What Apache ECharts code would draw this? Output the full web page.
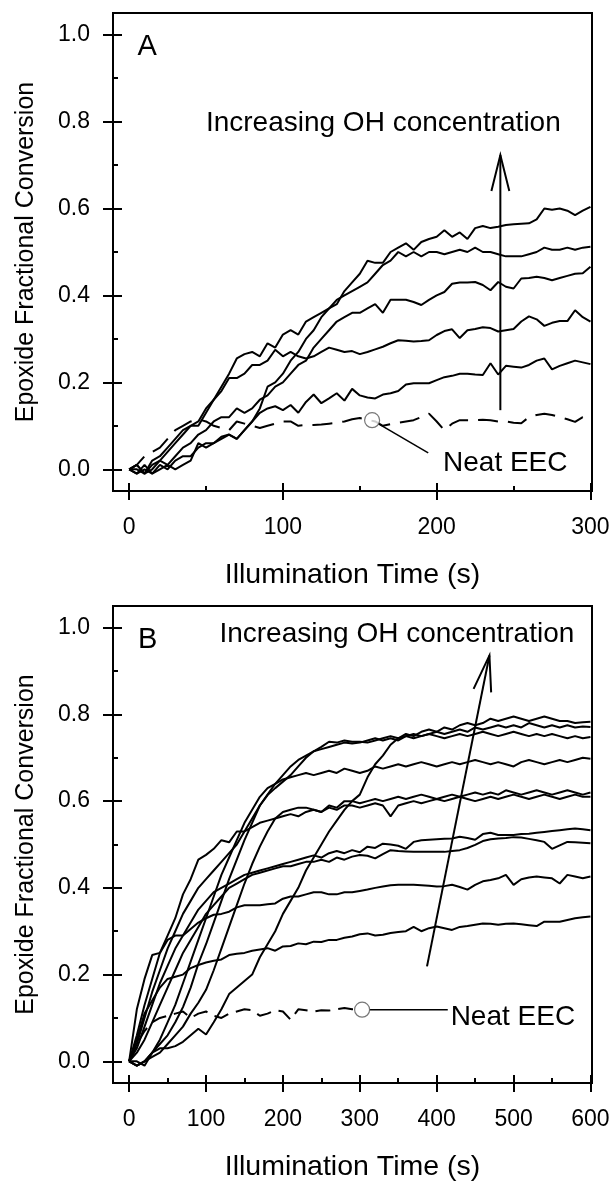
<!DOCTYPE html>
<html><head><meta charset="utf-8">
<script src="https://cdn.jsdelivr.net/npm/echarts@6/dist/echarts.min.js"></script>
<style>html,body{margin:0;padding:0;background:#fff}#c{width:615px;height:1183px}</style>
</head><body><div id="c"></div>
<script>
const FONT = 'Liberation Sans, Arial, sans-serif';
// ---------- Panel A (time step 5 s) ----------
const timeA = [0,5,10,15,20,25,30,35,40,45,50,55,60,65,70,75,80,85,90,95,100,105,110,115,120,125,130,135,140,145,150,155,160,165,170,175,180,185,190,195,200,205,210,215,220,225,230,235,240,245,250,255,260,265,270,275,280,285,290,295,300];
const a1 = [0,0,-0.01,0.01,0.02, 0.04,0.06,0.08,0.10,0.11, 0.14,0.16,0.19,0.22,0.255, 0.265,0.27,0.26,0.29,0.28, 0.31,0.32,0.31,0.34,0.35, 0.36,0.37,0.38,0.41,0.43, 0.45,0.48,0.475,0.475,0.50, 0.51,0.52,0.505,0.523,0.53, 0.535,0.55,0.535,0.545,0.53, 0.555,0.56,0.555,0.558,0.562, 0.564,0.565,0.566,0.575,0.60, 0.597,0.60,0.595,0.585,0.595, 0.604];
const a2 = [0,-0.01,0,-0.01,0.01, 0,0.02,0.03,0.03,0.05, 0.06,0.06,0.07,0.08,0.07, 0.09,0.11,0.14,0.19,0.20, 0.22,0.25,0.27,0.30,0.32, 0.35,0.37,0.39,0.40,0.41, 0.42,0.43,0.45,0.47,0.48, 0.50,0.49,0.50,0.49,0.50, 0.50,0.495,0.50,0.505,0.50, 0.51,0.50,0.50,0.495,0.49, 0.49,0.49,0.495,0.50,0.51, 0.505,0.505,0.51,0.505,0.51, 0.512];
const a3 = [0,0.01,-0.01,0,0.02, 0.01,0.03,0.05,0.06,0.08, 0.09,0.11,0.12,0.12,0.14, 0.13,0.14,0.16,0.17,0.19, 0.20,0.22,0.24,0.25,0.28, 0.30,0.32,0.34,0.35,0.36, 0.36,0.37,0.38,0.36,0.39, 0.39,0.39,0.385,0.378,0.39, 0.40,0.408,0.427,0.43,0.43, 0.431,0.424,0.412,0.431,0.42, 0.416,0.439,0.44,0.443,0.44, 0.435,0.44,0.445,0.45,0.451, 0.466];
const a4 = [0,0.01,-0.01,0.02,0.03, 0.05,0.07,0.09,0.10,0.10, 0.13,0.16,0.18,0.21,0.21, 0.22,0.24,0.24,0.25,0.275, 0.26,0.27,0.26,0.255,0.26, 0.27,0.28,0.275,0.27,0.272, 0.265,0.27,0.276,0.282,0.29, 0.297,0.296,0.294,0.295,0.297, 0.309,0.318,0.322,0.302,0.32, 0.323,0.327,0.325,0.317,0.32, 0.323,0.34,0.352,0.345,0.33, 0.337,0.341,0.341,0.366,0.35, 0.34];
const a5 = [0,-0.01,0.01,-0.01,0, 0.01,0,0.01,0.02,0.06, 0.05,0.06,0.075,0.08,0.07, 0.09,0.11,0.13,0.14,0.145, 0.136,0.148,0.13,0.155,0.172, 0.152,0.163,0.175,0.158,0.185, 0.17,0.165,0.163,0.172,0.175, 0.18,0.195,0.198,0.198,0.198, 0.205,0.212,0.215,0.22,0.22, 0.218,0.217,0.244,0.218,0.238, 0.236,0.234,0.24,0.25,0.255, 0.23,0.238,0.244,0.25,0.246, 0.242];
const aNeat = [0,0.01,0.03,0.04,0.05, 0.07,0.09,0.10,0.11,0.115, 0.11,0.10,0.095,0.09,0.11, 0.105,0.10,0.095,0.10,0.105, 0.11,0.11,0.10,0.102,0.102, 0.103,0.105,0.107,0.11,0.115, 0.118,0.114,0.11,0.10,0.104, 0.107,0.11,0.113,0.12,0.128, 0.11,0.09,0.105,0.113,0.113, 0.113,0.114,0.113,0.11,0.11, 0.107,0.106,0.12,0.125,0.128, 0.125,0.12,0.115,0.109,0.12, 0.12];
const neatMarkA = [158, 0.113];
const xMajorA = [0,100,200,300];
const xMinorA = [50,150,250];
// ---------- Panel B (time step 10 s) ----------
const timeB = [0,10,20,30,40,50,60,70,80,90,100,110,120,130,140,150,160,170,180,190,200,210,220,230,240,250,260,270,280,290,300,310,320,330,340,350,360,370,380,390,400,410,420,430,440,450,460,470,480,490,500,510,520,530,540,550,560,570,580,590,600];
const b1 = [0,-0.01,0,0.02,0.03, 0.03,0.035,0.045,0.06,0.075, 0.062,0.09,0.12,0.155,0.17, 0.185,0.20,0.24,0.27,0.30, 0.34,0.37,0.40,0.44,0.47, 0.50,0.53,0.555,0.58,0.60, 0.615,0.655,0.685,0.705,0.73, 0.745,0.755,0.75,0.76,0.765, 0.76,0.77,0.765,0.775,0.78, 0.775,0.78,0.79,0.785,0.79, 0.795,0.79,0.785,0.79,0.795, 0.79,0.785,0.785,0.78,0.782, 0.783];
const b2 = [0,0.12,0.19,0.245,0.25, 0.29,0.33,0.385,0.42,0.465, 0.476,0.49,0.51,0.505,0.53, 0.53,0.56,0.59,0.614,0.63, 0.645,0.66,0.68,0.70,0.715, 0.725,0.737,0.735,0.74,0.737, 0.737,0.735,0.74,0.745,0.75, 0.745,0.75,0.755,0.75,0.755, 0.76,0.755,0.76,0.765,0.76, 0.77,0.765,0.77,0.775,0.77, 0.775,0.77,0.78,0.775,0.77, 0.775,0.77,0.775,0.77,0.772, 0.771];
const b3 = [0,-0.01,0,0.02,0.04, 0.06,0.09,0.125,0.17,0.225, 0.27,0.32,0.37,0.42,0.465, 0.51,0.55,0.59,0.615,0.64, 0.66,0.68,0.695,0.705,0.715, 0.72,0.725,0.73,0.735,0.733, 0.735,0.74,0.745,0.74,0.745, 0.74,0.75,0.745,0.75,0.755, 0.75,0.745,0.75,0.755,0.75, 0.755,0.76,0.755,0.75,0.755, 0.76,0.755,0.75,0.755,0.75, 0.755,0.75,0.745,0.75,0.745, 0.748];
const b4 = [0,0,-0.01,0.02,0.05, 0.09,0.13,0.18,0.23,0.28, 0.33,0.38,0.43,0.47,0.51, 0.55,0.58,0.61,0.63,0.64, 0.65,0.655,0.66,0.665,0.66, 0.665,0.67,0.665,0.675,0.67, 0.665,0.67,0.68,0.675,0.68, 0.685,0.68,0.685,0.69,0.685, 0.68,0.685,0.69,0.685,0.69, 0.695,0.69,0.685,0.69,0.685, 0.68,0.69,0.695,0.69,0.685, 0.69,0.695,0.69,0.695,0.70, 0.698];
const b5 = [0,-0.01,0,0.01,0.02, 0.04,0.06,0.08,0.11,0.135, 0.165,0.21,0.26,0.31,0.36, 0.41,0.455,0.495,0.53,0.56, 0.575,0.58,0.585,0.585,0.58, 0.575,0.59,0.585,0.60,0.60, 0.595,0.60,0.605,0.60,0.605, 0.61,0.605,0.61,0.615,0.61, 0.605,0.61,0.615,0.61,0.615, 0.62,0.615,0.62,0.615,0.625, 0.62,0.615,0.62,0.625,0.62, 0.615,0.62,0.625,0.62,0.615, 0.62];
const b6 = [0,0.04,0.10,0.16,0.21, 0.26,0.30,0.34,0.37,0.40, 0.42,0.44,0.46,0.48,0.50, 0.53,0.54,0.55,0.555,0.56, 0.565,0.57,0.565,0.575,0.58, 0.575,0.585,0.58,0.59,0.59, 0.585,0.59,0.595,0.59,0.565, 0.59,0.595,0.60,0.595,0.60, 0.605,0.60,0.605,0.61,0.605, 0.60,0.605,0.61,0.605,0.61, 0.615,0.61,0.605,0.61,0.615, 0.61,0.605,0.61,0.615,0.61, 0.61];
const b7 = [0,0.03,0.08,0.13,0.18, 0.22,0.26,0.29,0.32,0.35, 0.37,0.39,0.40,0.41,0.42, 0.43,0.435,0.44,0.445,0.45, 0.455,0.46,0.465,0.47,0.475, 0.47,0.48,0.485,0.48,0.487, 0.482,0.495,0.492,0.502,0.50, 0.497,0.49,0.506,0.51,0.511, 0.512,0.513,0.514,0.518,0.515, 0.511,0.524,0.527,0.522,0.522, 0.522,0.524,0.525,0.527,0.529, 0.531,0.533,0.535,0.537,0.535, 0.533];
const b8 = [0,0.02,0.05,0.09,0.13, 0.17,0.21,0.25,0.28,0.31, 0.34,0.36,0.38,0.40,0.41, 0.42,0.43,0.435,0.44,0.445, 0.45,0.45,0.455,0.46,0.46, 0.465,0.46,0.47,0.465,0.472, 0.476,0.474,0.468,0.478,0.487, 0.485,0.484,0.483,0.483,0.483, 0.483,0.483,0.485,0.487,0.492, 0.499,0.508,0.512,0.514,0.515, 0.517,0.516,0.513,0.51,0.506, 0.49,0.498,0.506,0.505,0.504, 0.503];
const b9 = [0,0.06,0.13,0.19,0.25, 0.28,0.29,0.29,0.305,0.32, 0.33,0.338,0.34,0.345,0.355, 0.36,0.36,0.36,0.362,0.364, 0.375,0.38,0.38,0.385,0.39, 0.39,0.385,0.385,0.39,0.39, 0.393,0.396,0.40,0.403,0.406, 0.407,0.407,0.407,0.406,0.405, 0.403,0.404,0.407,0.402,0.396, 0.407,0.415,0.418,0.422,0.43, 0.407,0.42,0.424,0.426,0.424, 0.422,0.41,0.43,0.426,0.422, 0.426];
const b10 = [0,0.05,0.11,0.14,0.17, 0.19,0.195,0.20,0.215,0.222, 0.228,0.232,0.235,0.245,0.248, 0.25,0.255,0.258,0.261,0.255, 0.265,0.266,0.272,0.27,0.276, 0.275,0.28,0.28,0.285,0.288, 0.293,0.295,0.29,0.292,0.296, 0.298,0.30,0.31,0.30,0.307, 0.311,0.307,0.303,0.31,0.312, 0.315,0.318,0.317,0.315,0.317, 0.318,0.316,0.314,0.312,0.322, 0.322,0.322,0.326,0.33,0.332, 0.334];
const timeBNeat = [0,10,20,30,40,50,60,70,80,90,100,110,120,130,140,150,160,170,180,190,200,210,220,230,240,250,260,270,280,290,300];
const bNeat = [0,0.04,0.07,0.09,0.10, 0.105,0.11,0.115,0.10,0.11, 0.115,0.105,0.10,0.11,0.115, 0.12,0.118,0.105,0.11,0.118, 0.115,0.096,0.12,0.118,0.115, 0.118,0.117,0.12,0.123,0.12, 0.119];
const neatMarkB = [303, 0.119];
const xMajorB = [0,100,200,300,400,500,600];
const xMinorB = [50,150,250,350,450,550];
// ---------- shared ----------
const yMajor = [0,0.2,0.4,0.6,0.8,1.0];
const yMinor = [0.1,0.3,0.5,0.7,0.9];
const xTitle = 'Illumination Time (s)';
const yTitle = 'Epoxide Fractional Conversion';
const arrowText = 'Increasing OH concentration';
const neatText = 'Neat EEC';
// annotation anchors in data units
const annA = {letter:'A', letterAt:[11.7,0.971], textAt:[165.3,0.796], arrowFrom:[241.4,0.136], arrowTo:[241.4,0.723], neatAt:[244.6,0.014], pointerTo:[194.5,0.0375]};
const annB = {letter:'B', letterAt:[24.1,0.971], textAt:[348.2,0.985], arrowFrom:[387.4,0.219], arrowTo:[468.6,0.936], neatAt:[499.1,0.102], pointerTo:[414.4,0.119]};

const chart = echarts.init(document.getElementById('c'), null, {renderer:'canvas'});
const pairs = (t, v) => v.map((y, i) => [t[i], y]);
const tickStyle = {color:'#000', width:2};

function xAxes(gi, min, max, majors, minors) {
  const base = {type:'value', gridIndex:gi, min, max, position:'bottom', axisLine:{show:false, onZero:false}, splitLine:{show:false}};
  return [
    Object.assign({}, base, {
      axisTick:{show:true, inside:false, length:9, customValues:majors, lineStyle:tickStyle},
      axisLabel:{show:true, customValues:majors, margin:25, fontSize:23, color:'#000', fontFamily:FONT},
      name:xTitle, nameLocation:'middle', nameGap:70, nameTextStyle:{fontSize:28.5, color:'#000', fontFamily:FONT}
    }),
    Object.assign({}, base, {axisTick:{show:true, inside:true, length:8, customValues:majors, lineStyle:tickStyle}, axisLabel:{show:false}}),
    Object.assign({}, base, {axisTick:{show:true, inside:true, length:5, customValues:minors, lineStyle:tickStyle}, axisLabel:{show:false}})
  ];
}
function yAxes(gi) {
  const base = {type:'value', gridIndex:gi, min:-0.05, max:1.05, position:'left', axisLine:{show:false, onZero:false}, splitLine:{show:false}};
  return [
    Object.assign({}, base, {
      axisTick:{show:true, inside:false, length:10, customValues:yMajor, lineStyle:tickStyle},
      axisLabel:{show:true, customValues:yMajor, formatter:v => Number(v).toFixed(1), margin:23, fontSize:23, color:'#000', fontFamily:FONT},
      name:yTitle, nameLocation:'middle', nameGap:74, nameTextStyle:{fontSize:25, color:'#000', fontFamily:FONT}
    }),
    Object.assign({}, base, {axisTick:{show:true, inside:true, length:9, customValues:yMajor, lineStyle:tickStyle}, axisLabel:{show:false}}),
    Object.assign({}, base, {axisTick:{show:true, inside:true, length:5, customValues:yMinor, lineStyle:tickStyle}, axisLabel:{show:false}})
  ];
}
function solid(panel, t, v) {
  return {type:'line', xAxisIndex:panel*3, yAxisIndex:panel*3, data:pairs(t, v), showSymbol:false, symbol:'none',
    lineStyle:{color:'#000', width:2}, silent:true, animation:false, z:3};
}
function dashed(panel, t, v, dash) {
  return {type:'line', xAxisIndex:panel*3, yAxisIndex:panel*3, data:pairs(t, v), showSymbol:false, symbol:'none',
    lineStyle:{color:'#000', width:2, type:dash}, silent:true, animation:false, z:3};
}
function marker(panel, p) {
  return {type:'scatter', xAxisIndex:panel*3, yAxisIndex:panel*3, data:[p], symbol:'circle', symbolSize:15,
    itemStyle:{color:'#fff', borderColor:'#555', borderWidth:1.2}, silent:true, animation:false, z:6};
}

const series = [
  solid(0, timeA, a1), solid(0, timeA, a2), solid(0, timeA, a3), solid(0, timeA, a4), solid(0, timeA, a5),
  dashed(0, timeA, aNeat, [20,10]),
  solid(1, timeB, b1), solid(1, timeB, b2), solid(1, timeB, b3), solid(1, timeB, b4), solid(1, timeB, b5),
  solid(1, timeB, b6), solid(1, timeB, b7), solid(1, timeB, b8), solid(1, timeB, b9), solid(1, timeB, b10),
  dashed(1, timeBNeat, bNeat, [15,8])
];

chart.setOption({
  animation:false,
  backgroundColor:'#fff',
  grid:[
    {left:113, top:13, width:479, height:478, show:true, borderColor:'#000', borderWidth:2, backgroundColor:'transparent'},
    {left:113, top:606, width:479, height:478, show:true, borderColor:'#000', borderWidth:2, backgroundColor:'transparent'}
  ],
  xAxis: xAxes(0, -10.5, 301, xMajorA, xMinorA).concat(xAxes(1, -21, 602, xMajorB, xMinorB)),
  yAxis: yAxes(0).concat(yAxes(1)),
  series: series.concat([marker(0, neatMarkA), marker(1, neatMarkB)])
});

// annotations placed from data coordinates
function annotate(ann, seriesIndex, markerPt) {
  const px = p => chart.convertToPixel({seriesIndex}, p);
  const out = [];
  const L = px(ann.letterAt), T = px(ann.textAt), F = px(ann.arrowFrom), To = px(ann.arrowTo);
  const N = px(ann.neatAt), P = px(ann.pointerTo), M = px(markerPt);
  out.push({type:'text', z:10, style:{text:ann.letter, x:L[0], y:L[1], align:'center', verticalAlign:'middle', font:'29px ' + FONT, fill:'#000'}});
  out.push({type:'text', z:10, style:{text:arrowText, x:T[0], y:T[1], align:'center', verticalAlign:'middle', font:'28px ' + FONT, fill:'#000'}});
  out.push({type:'text', z:10, style:{text:neatText, x:N[0], y:N[1], align:'center', verticalAlign:'middle', font:'28px ' + FONT, fill:'#000'}});
  out.push({type:'line', z:10, shape:{x1:F[0], y1:F[1], x2:To[0], y2:To[1]}, style:{stroke:'#000', lineWidth:2}});
  const dx = F[0]-To[0], dy = F[1]-To[1], len = Math.hypot(dx, dy);
  const ux = dx/len, uy = dy/len, ang = 14*Math.PI/180, hl = 37;
  const r1 = [To[0] + hl*(ux*Math.cos(ang) - uy*Math.sin(ang)), To[1] + hl*(ux*Math.sin(ang) + uy*Math.cos(ang))];
  const r2 = [To[0] + hl*(ux*Math.cos(-ang) - uy*Math.sin(-ang)), To[1] + hl*(ux*Math.sin(-ang) + uy*Math.cos(-ang))];
  out.push({type:'polyline', z:10, shape:{points:[r1, To, r2]}, style:{stroke:'#000', lineWidth:2, fill:null}});
  const mdx = P[0]-M[0], mdy = P[1]-M[1], ml = Math.hypot(mdx, mdy);
  out.push({type:'line', z:5, shape:{x1:M[0]+mdx/ml*7.5, y1:M[1]+mdy/ml*7.5, x2:P[0], y2:P[1]}, style:{stroke:'#000', lineWidth:1.5}});
  return out;
}
chart.setOption({graphic: annotate(annA, 0, neatMarkA).concat(annotate(annB, 6, neatMarkB))});
</script></body></html>
